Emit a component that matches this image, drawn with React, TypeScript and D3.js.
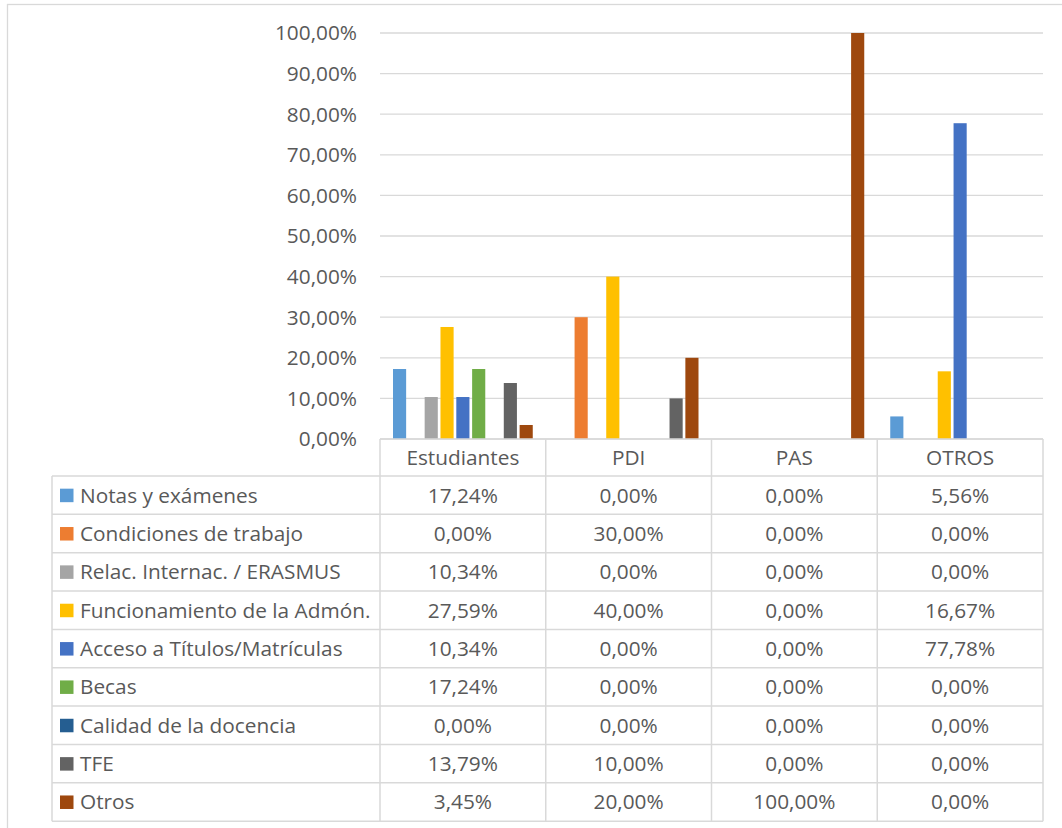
import * as d3 from "d3";
import React from "react";

const categories = ["Estudiantes", "PDI", "PAS", "OTROS"];
const seriesNames = [
  "Notas y exámenes",
  "Condiciones de trabajo",
  "Relac. Internac. / ERASMUS",
  "Funcionamiento de la Admón.",
  "Acceso a Títulos/Matrículas",
  "Becas",
  "Calidad de la docencia",
  "TFE",
  "Otros",
];
const seriesColors = [
  "#5B9BD5",
  "#ED7D31",
  "#A5A5A5",
  "#FFC000",
  "#4472C4",
  "#70AD47",
  "#255E91",
  "#636363",
  "#9E480E",
];
// one array per series, values for Estudiantes, PDI, PAS, OTROS
const notas = [17.24, 0, 0, 5.56];
const condiciones = [0, 30, 0, 0];
const relac = [10.34, 0, 0, 0];
const funcionamiento = [27.59, 40, 0, 16.67];
const acceso = [10.34, 0, 0, 77.78];
const becas = [17.24, 0, 0, 0];
const calidad = [0, 0, 0, 0];
const tfe = [13.79, 10, 0, 0];
const otros = [3.45, 20, 100, 0];
const seriesValues = [notas, condiciones, relac, funcionamiento, acceso, becas, calidad, tfe, otros];
const yTicks = [0, 10, 20, 30, 40, 50, 60, 70, 80, 90, 100];

const W = 1062;
const H = 828;
const plot = { left: 380, right: 1043, top: 33, bottom: 439 };
const tableLeft = 52;
const headerBottom = 476;
const rowH = 38.35;
const font = "'Open Sans', sans-serif";
const fs = 20.8;
const textColor = "#595959";
const lineColor = "#d9d9d9";

const fmt = (v: number) => v.toFixed(2).replace(".", ",") + "%";

const App: React.FC = () => {
  const x0 = d3.scaleBand<string>().domain(categories).range([plot.left, plot.right]).padding(0);
  const bw = x0.bandwidth();
  const x1 = d3
    .scaleBand<string>()
    .domain(seriesNames)
    .range([13, bw - 13])
    .paddingInner(0.17);
  const y = d3.scaleLinear().domain([0, 100]).range([plot.bottom, plot.top]);
  const tableBottom = headerBottom + rowH * seriesNames.length;

  return (
    <svg width={W} height={H} style={{ position: "absolute", left: 0, top: 0 }} fontFamily={font}>
      <rect x={0} y={0} width={W} height={H} fill="#fff" />
      <rect x={7.5} y={4.5} width={W + 20} height={H + 20} fill="none" stroke={lineColor} strokeWidth={1.3} />

      {/* gridlines + y labels */}
      {yTicks.map((t) => (
        <g key={t}>
          <line x1={plot.left} x2={plot.right} y1={y(t)} y2={y(t)} stroke={lineColor} strokeWidth={1.3} />
          <text x={357} y={y(t)} dy="0.36em" textAnchor="end" fontSize={fs} fill={textColor}>
            {fmt(t)}
          </text>
        </g>
      ))}

      {/* bars */}
      {categories.map((c, ci) => (
        <g key={c} transform={`translate(${x0(c)},0)`}>
          {seriesNames.map((s, si) => {
            const v = seriesValues[si][ci];
            if (v <= 0) return null;
            return (
              <rect
                key={s}
                x={x1(s)}
                y={y(v)}
                width={x1.bandwidth()}
                height={plot.bottom - y(v)}
                fill={seriesColors[si]}
              />
            );
          })}
        </g>
      ))}

      {/* data table */}
      <line x1={plot.left} x2={plot.right} y1={plot.bottom} y2={plot.bottom} stroke={lineColor} strokeWidth={1.5} />
      {seriesNames.map((_, i) => (
        <line
          key={i}
          x1={tableLeft}
          x2={plot.right}
          y1={headerBottom + rowH * i}
          y2={headerBottom + rowH * i}
          stroke={lineColor}
          strokeWidth={1.5}
        />
      ))}
      <line x1={tableLeft} x2={plot.right} y1={tableBottom} y2={tableBottom} stroke={lineColor} strokeWidth={1.5} />
      <line x1={tableLeft} x2={tableLeft} y1={headerBottom} y2={tableBottom} stroke={lineColor} strokeWidth={1.5} />
      {[...categories.map((c) => x0(c)!), plot.right].map((xv, i) => (
        <line key={i} x1={xv} x2={xv} y1={plot.bottom} y2={tableBottom} stroke={lineColor} strokeWidth={1.5} />
      ))}

      {categories.map((c) => (
        <text
          key={c}
          x={x0(c)! + bw / 2}
          y={(plot.bottom + headerBottom) / 2}
          dy="0.36em"
          textAnchor="middle"
          fontSize={fs}
          fill={textColor}
        >
          {c}
        </text>
      ))}

      {seriesNames.map((s, si) => {
        const cy = headerBottom + rowH * si + rowH / 2;
        return (
          <g key={s}>
            <rect x={60} y={cy - 6.5} width={13.5} height={13.5} fill={seriesColors[si]} />
            <text x={80} y={cy} dy="0.36em" fontSize={fs} fill={textColor}>
              {s}
            </text>
            {categories.map((c, ci) => (
              <text
                key={c}
                x={x0(c)! + bw / 2}
                y={cy}
                dy="0.36em"
                textAnchor="middle"
                fontSize={fs}
                fill={textColor}
              >
                {fmt(seriesValues[si][ci])}
              </text>
            ))}
          </g>
        );
      })}
    </svg>
  );
};

export default App;
